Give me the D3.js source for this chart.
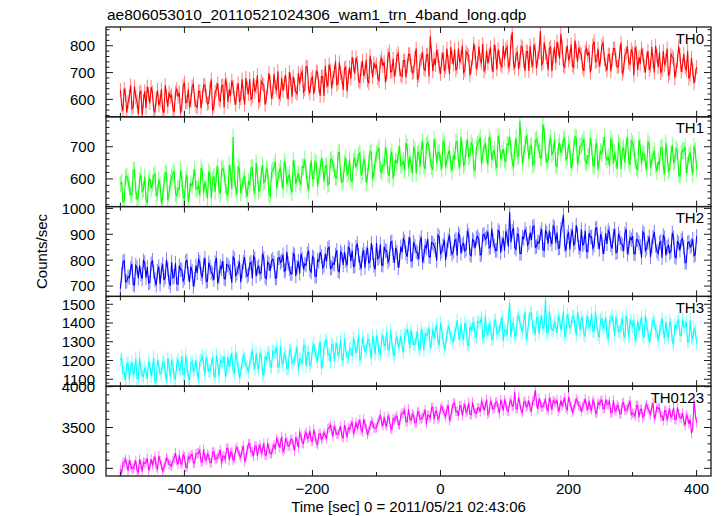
<!DOCTYPE html>
<html><head><meta charset="utf-8">
<script src="https://cdn.jsdelivr.net/npm/d3@7"></script>
<style>
body{margin:0;background:#fff}
svg{display:block}
text{font-family:"Liberation Sans",Arial,Helvetica,sans-serif;fill:#000}
</style>
</head><body>
<svg id="c" width="723" height="516"></svg>
<script>
const title = "ae806053010_20110521024306_wam1_trn_4band_long.qdp";
const xLabel = "Time [sec] 0 = 2011/05/21 02:43:06";
const yLabel = "Counts/sec";
// readings every 2 s: "A" arrays start at -500 s, "B" arrays start at -498 s (4 s step each)
const timeStartA = -500, timeStartB = -498, timeStep = 4;
const bandNames = ["TH0", "TH1", "TH2", "TH3", "TH0123"];
const bandColors = ["#ff0000", "#00ff00", "#0000ff", "#00ffff", "#ff00ff"];
const bandErrors = [26, 26, 28, 36, 60];
const yDomains = [[535, 870], [514, 793], [660, 1007], [1063, 1542], [2906, 4006]];
const yMajorStep = [100, 100, 100, 100, 500];
const yMinorStep = [20, 20, 20, 20, 100];
const xDomain = [-522.5, 422.5];
const xMajorTicks = [-400, -200, 0, 200, 400];
const xMinorTicks = [-500, -300, -100, 100, 300];

const th0A = [
635,558,618,590,652,572,608,545,630,595,
568,620,646,560,603,578,638,550,613,626,
615,553,638,625,580,663,590,570,647,597,
570,630,610,653,583,640,557,627,660,593,
653,675,590,613,647,580,660,605,623,680,
620,598,680,646,588,668,653,610,698,603,
695,635,602,680,662,628,702,610,655,620,
657,703,637,720,623,683,653,700,613,685,
725,648,708,680,742,662,698,635,720,685,
678,730,756,670,713,688,748,660,723,736,
730,668,753,740,695,778,705,685,762,712,
685,745,725,768,698,755,672,742,775,708,
768,835,705,728,762,695,775,720,738,795,
730,708,790,756,698,778,763,720,808,713,
797,737,704,782,764,730,804,712,757,722,
750,796,730,850,716,776,746,793,706,778,
800,723,783,755,855,737,773,710,795,760,
735,787,845,727,770,745,805,717,780,793,
768,706,791,778,733,816,743,723,800,750,
707,767,747,790,720,777,694,764,797,730,
773,795,710,733,767,700,780,725,743,800,
720,698,780,746,688,768,753,710,798,703,
770,710,677,755,660,720];
const th0B = [
578,640,550,612,565,648,592,625,540,630,
648,586,626,553,634,593,560,653,573,608,
565,625,610,547,649,587,637,595,657,575,
630,567,653,613,587,675,573,637,600,650,
570,655,637,670,605,633,590,675,580,643,
676,610,628,690,598,658,580,644,666,626,
645,705,618,632,692,600,675,685,628,698,
693,627,723,640,675,620,705,650,685,613,
668,730,640,702,655,738,682,715,630,720,
758,696,736,663,744,703,670,763,683,718,
680,740,725,662,764,702,752,710,772,690,
745,682,768,728,702,790,688,752,715,765,
685,770,752,785,720,748,705,790,695,758,
786,720,738,800,708,768,690,754,776,736,
747,807,720,734,794,702,777,787,730,800,
786,720,816,733,768,713,798,743,778,706,
743,805,715,777,730,813,757,790,705,795,
815,753,793,720,801,760,727,820,740,775,
718,778,763,700,802,740,790,748,810,728,
767,704,790,750,724,812,710,774,737,787,
690,775,757,790,725,753,710,795,700,763,
776,710,728,790,698,758,680,744,766,726,
720,780,693,707,690];

const th1A = [
584,528,605,593,552,627,561,543,613,568,
534,589,570,609,546,598,523,586,616,555,
605,625,548,569,600,539,612,562,578,630,
569,549,623,592,540,612,599,560,639,553,
633,578,549,619,730,572,639,556,597,565,
593,634,575,650,562,616,589,632,553,618,
640,570,624,599,655,583,615,558,635,603,
591,638,661,584,623,600,654,575,632,643,
637,581,658,646,605,680,614,596,666,621,
599,654,635,674,611,663,588,651,681,620,
677,697,620,641,672,611,684,634,650,702,
646,626,700,669,617,689,676,637,716,630,
713,658,629,699,683,652,719,636,677,645,
673,714,655,730,642,696,669,712,633,698,
716,646,700,675,731,659,691,634,711,679,
661,708,731,654,693,670,780,645,702,713,
699,643,720,708,667,770,676,658,728,683,
645,700,681,720,657,709,634,697,727,666,
705,725,648,669,700,639,712,662,678,730,
659,639,713,682,630,702,689,650,729,643,
711,656,627,697,681,650,717,634,675,643,
655,696,637,712,624,678,651,694,615,680,
687,617,671,646,702,630];
const th1B = [
589,532,609,573,550,629,537,595,561,607,
525,602,586,616,557,582,543,620,534,591,
614,555,571,627,544,598,528,585,605,569,
580,635,556,569,623,540,608,617,565,628,
617,558,644,569,601,551,628,578,610,545,
580,636,555,611,568,643,593,623,546,627,
653,597,633,567,640,603,574,658,585,617,
582,636,623,566,658,602,647,609,665,591,
642,585,662,626,603,682,590,648,614,660,
590,667,651,681,622,647,608,685,599,656,
686,627,643,699,616,670,600,657,677,641,
657,712,633,646,700,617,685,694,642,705,
697,638,724,649,681,631,708,658,690,625,
660,716,635,691,648,723,673,703,626,707,
729,673,709,643,716,679,650,734,661,693,
652,706,693,636,728,672,717,679,735,661,
704,647,724,688,665,744,652,710,676,722,
636,713,697,727,668,693,654,731,645,702,
714,655,671,727,644,698,628,685,705,669,
670,725,646,659,713,630,698,707,655,718,
695,636,722,647,679,629,706,656,688,623,
642,698,617,673,630,705,655,685,608,689,
700,644,680,614,687];

const th2A = [
690,793,716,737,768,707,780,730,746,798,
732,712,786,755,703,775,762,723,802,716,
793,738,709,779,763,732,799,716,757,725,
751,792,733,808,720,774,747,790,711,776,
797,727,781,756,812,740,772,715,792,760,
745,792,815,738,777,754,808,729,786,797,
789,733,810,798,757,832,766,748,818,773,
749,804,785,824,761,813,738,801,831,770,
825,845,768,789,820,759,832,782,798,850,
796,776,850,819,767,839,826,787,866,780,
866,811,782,852,836,805,872,789,830,798,
831,872,813,888,800,854,827,870,791,856,
882,812,866,841,897,825,857,800,877,845,
833,880,903,826,865,842,896,817,874,885,
879,823,900,888,847,922,856,838,908,863,
837,892,985,912,849,901,826,889,919,858,
907,927,850,871,902,841,914,864,880,932,
866,846,920,975,837,909,896,857,936,850,
919,864,835,905,889,858,925,842,883,851,
863,904,845,920,832,886,859,902,823,888,
894,824,878,853,909,837,869,812,889,857,
825,872,895,818,857,834,888,809,866,877,
849,793,870,858,817,892];
const th2B = [
743,798,719,732,786,703,771,780,728,791,
773,714,800,725,757,707,784,734,766,701,
732,788,707,763,720,795,745,775,698,779,
803,747,783,717,790,753,724,808,735,767,
729,783,770,713,805,749,794,756,812,738,
786,729,806,770,747,826,734,792,758,804,
730,807,791,821,762,787,748,825,739,796,
824,765,781,837,754,808,738,795,815,779,
795,850,771,784,838,755,823,832,780,843,
837,778,864,789,821,771,848,798,830,765,
805,861,780,836,793,868,818,848,771,852,
883,827,863,797,870,833,804,888,815,847,
814,868,855,798,890,834,879,841,897,823,
874,817,894,858,835,914,822,880,846,892,
820,897,881,911,852,877,838,915,829,886,
912,853,869,925,842,896,826,883,903,867,
877,932,853,866,920,837,905,914,862,925,
907,848,934,859,891,841,918,868,900,835,
858,914,833,889,846,921,871,901,824,905,
915,859,895,829,902,865,836,920,847,879,
826,880,867,810,902,846,891,853,909,835,
866,809,886,850,827,906,814,872,838,884,
790,867,851,881,822];

const th3A = [
1204,1132,1092,1186,1164,1124,1212,1102,1156,1114,
1140,1196,1116,1216,1100,1172,1136,1192,1088,1174,
1202,1110,1182,1148,1222,1126,1170,1094,1196,1154,
1132,1194,1226,1122,1174,1144,1216,1110,1186,1202,
1190,1116,1218,1202,1148,1248,1160,1136,1228,1168,
1138,1210,1186,1238,1154,1222,1122,1206,1246,1166,
1244,1270,1168,1196,1236,1156,1252,1186,1208,1276,
1208,1182,1280,1240,1170,1266,1248,1196,1302,1188,
1304,1232,1192,1286,1264,1224,1312,1202,1256,1214,
1260,1316,1236,1336,1220,1292,1256,1312,1208,1294,
1332,1240,1312,1278,1352,1256,1300,1224,1326,1284,
1274,1336,1368,1264,1316,1286,1358,1252,1328,1344,
1342,1268,1370,1354,1300,1400,1312,1288,1380,1320,
1296,1368,1344,1396,1312,1380,1280,1364,1404,1324,
1402,1428,1326,1354,1394,1314,1410,1344,1366,1434,
1363,1337,1510,1395,1325,1421,1403,1351,1457,1343,
1449,1377,1337,1431,1409,1369,1530,1347,1401,1359,
1385,1441,1361,1461,1345,1417,1381,1437,1333,1419,
1432,1340,1412,1378,1452,1356,1400,1324,1426,1384,
1344,1406,1438,1334,1386,1356,1428,1322,1398,1414,
1382,1308,1410,1394,1340,1440,1352,1328,1420,1360,
1306,1378,1354,1406,1322,1390,1290,1374,1414,1334,
1379,1405,1303,1331,1371,1291];
const th3B = [
1210,1136,1184,1096,1193,1144,1104,1216,1120,1162,
1102,1174,1156,1080,1203,1128,1188,1138,1212,1114,
1178,1102,1206,1158,1126,1232,1110,1186,1142,1202,
1102,1204,1182,1222,1144,1178,1126,1228,1114,1190,
1224,1144,1166,1240,1130,1202,1108,1185,1212,1164,
1186,1258,1154,1170,1242,1132,1222,1234,1166,1250,
1244,1164,1280,1180,1222,1156,1258,1192,1234,1148,
1204,1278,1170,1244,1188,1288,1220,1260,1158,1266,
1310,1236,1284,1196,1293,1244,1204,1316,1220,1262,
1222,1294,1276,1200,1323,1248,1308,1258,1332,1234,
1308,1232,1336,1288,1256,1362,1240,1316,1272,1332,
1244,1346,1324,1364,1286,1320,1268,1370,1256,1332,
1376,1296,1318,1392,1282,1354,1260,1337,1364,1316,
1344,1416,1312,1328,1400,1290,1380,1392,1324,1408,
1402,1322,1438,1338,1380,1314,1416,1350,1392,1306,
1359,1433,1325,1399,1343,1443,1375,1415,1313,1421,
1455,1381,1429,1341,1438,1389,1349,1461,1365,1407,
1347,1419,1401,1325,1448,1373,1433,1383,1457,1359,
1408,1332,1436,1388,1356,1462,1340,1416,1372,1432,
1314,1416,1394,1434,1356,1390,1338,1440,1326,1402,
1416,1336,1358,1432,1322,1394,1300,1377,1404,1356,
1354,1426,1322,1338,1410,1300,1390,1402,1334,1418,
1379,1299,1415,1315,1357];

const th0123A = [
2982,3065,3107,2969,3038,2998,3094,2953,3054,3075,
3076,2977,3113,3092,3020,3153,3036,3004,3127,3047,
3028,3124,3092,3161,3049,3140,3007,3119,3172,3065,
3185,3220,3084,3121,3175,3068,3196,3108,3137,3228,
3151,3116,3247,3193,3100,3228,3204,3135,3276,3124,
3297,3201,3148,3273,3244,3190,3308,3161,3233,3177,
3287,3361,3255,3388,3233,3329,3281,3356,3217,3332,
3436,3313,3409,3364,3463,3335,3393,3292,3428,3372,
3402,3485,3527,3389,3458,3418,3514,3373,3474,3495,
3526,3427,3563,3542,3470,3603,3486,3454,3577,3497,
3498,3594,3562,3631,3519,3610,3477,3589,3642,3535,
3675,3710,3574,3611,3665,3558,3686,3598,3627,3718,
3651,3616,3747,3693,3600,3728,3704,3635,3776,3624,
3792,3696,3643,3768,3739,3685,3803,3656,3728,3672,
3742,3816,3710,3843,3688,3784,3736,3811,3672,3787,
3831,3708,3804,3759,3930,3730,3788,3687,3823,3767,
3737,3820,3960,3724,3793,3753,3849,3708,3809,3830,
3796,3697,3833,3812,3740,3873,3756,3724,3847,3767,
3693,3789,3757,3826,3714,3805,3672,3784,3837,3730,
3785,3820,3684,3721,3775,3668,3796,3708,3737,3828,
3676,3641,3772,3718,3625,3753,3729,3660,3801,3649,
3732,3636,3583,3708,3679,3625,3743,3596,3668,3612,
3577,3651,3545,3430,3830,3560];
const th0123B = [
2942,3078,3049,3102,2998,3043,2974,3110,2958,3059,
3121,3015,3044,3143,2996,3092,2967,3070,3105,3041,
3092,3188,3049,3071,3167,3020,3140,3156,3065,3177,
3185,3079,3233,3100,3156,3068,3204,3116,3172,3057,
3145,3244,3100,3199,3124,3257,3167,3220,3084,3228,
3305,3206,3270,3153,3283,3217,3164,3313,3185,3241,
3236,3332,3308,3207,3370,3271,3351,3284,3383,3252,
3404,3303,3441,3377,3335,3476,3313,3415,3356,3436,
3362,3498,3469,3522,3418,3463,3394,3530,3378,3479,
3571,3465,3494,3593,3446,3542,3417,3520,3555,3491,
3562,3658,3519,3541,3637,3490,3610,3626,3535,3647,
3675,3569,3723,3590,3646,3558,3694,3606,3662,3547,
3645,3744,3600,3699,3624,3757,3667,3720,3584,3728,
3800,3701,3765,3648,3778,3712,3659,3808,3680,3736,
3691,3787,3763,3662,3825,3726,3806,3739,3838,3707,
3799,3698,3836,3772,3730,3871,3708,3810,3751,3831,
3697,3833,3804,3857,3753,3798,3729,3865,3713,3814,
3841,3735,3764,3863,3716,3812,3687,3790,3825,3761,
3757,3853,3714,3736,3832,3685,3805,3821,3730,3842,
3785,3679,3833,3700,3756,3668,3804,3716,3772,3657,
3670,3769,3625,3724,3649,3782,3692,3745,3609,3753,
3740,3641,3705,3588,3718,3652,3599,3748,3620,3676,
3526,3622,3598,3497,3660];

const bandA = [th0A, th1A, th2A, th3A, th0123A];
const bandB = [th0B, th1B, th2B, th3B, th0123B];

const plotL = 106, plotR = 711, plotT = 27, plotB = 476;
const nP = bandNames.length;
const ph = (plotB - plotT) / nP;
const svg = d3.select("#c");
const x = d3.scaleLinear().domain(xDomain).range([plotL, plotR]);
const ink = "#1a1a1a";

svg.append("text").attr("x", 107).attr("y", 20).attr("font-size", 15.5).text(title);

bandNames.forEach((name, i) => {
  const y0 = plotT + i * ph, y1 = y0 + ph;
  const y = d3.scaleLinear().domain(yDomains[i]).range([y1, y0]);
  const g = svg.append("g");
  const cid = "clip" + i;
  svg.append("clipPath").attr("id", cid).append("rect")
    .attr("x", plotL).attr("y", y0).attr("width", plotR - plotL).attr("height", ph);
  const pts = bandA[i].map((v, k) => ({t: timeStartA + k * timeStep, v}))
    .concat(bandB[i].map((v, k) => ({t: timeStartB + k * timeStep, v})))
    .sort((a, b) => a.t - b.t);
  const err = bandErrors[i];
  const dg = g.append("g").attr("clip-path", `url(#${cid})`);
  dg.selectAll("line.err").data(pts).join("line")
    .attr("x1", d => x(d.t)).attr("x2", d => x(d.t))
    .attr("y1", d => y(d.v - err)).attr("y2", d => y(d.v + err))
    .attr("stroke", bandColors[i]).attr("stroke-opacity", 0.5).attr("stroke-width", 1);
  dg.append("path").datum(pts)
    .attr("d", d3.line().x(d => x(d.t)).y(d => y(d.v)))
    .attr("fill", "none").attr("stroke", bandColors[i]).attr("stroke-width", 1.1);

  g.append("rect").attr("x", plotL).attr("y", y0).attr("width", plotR - plotL).attr("height", ph)
    .attr("fill", "none").attr("stroke", ink).attr("stroke-width", 1.3);

  const xt = xMajorTicks.map(t => ({t, L: 6})).concat(xMinorTicks.map(t => ({t, L: 4})));
  xt.forEach(d => {
    g.append("line").attr("x1", x(d.t)).attr("x2", x(d.t)).attr("y1", y1).attr("y2", y1 - d.L).attr("stroke", ink);
    g.append("line").attr("x1", x(d.t)).attr("x2", x(d.t)).attr("y1", y0).attr("y2", y0 + d.L).attr("stroke", ink);
  });

  const [lo, hi] = yDomains[i];
  const mn = yMinorStep[i], mj = yMajorStep[i];
  const yt = d3.range(Math.ceil(lo / mn) * mn, hi + 0.001, mn);
  yt.forEach(v => {
    const isMaj = Math.abs(v % mj) < 1e-6;
    const L = isMaj ? 7 : 3.5;
    g.append("line").attr("x1", plotL).attr("x2", plotL + L).attr("y1", y(v)).attr("y2", y(v)).attr("stroke", ink);
    g.append("line").attr("x1", plotR).attr("x2", plotR - L).attr("y1", y(v)).attr("y2", y(v)).attr("stroke", ink);
    if (isMaj) {
      g.append("text").attr("x", plotL - 11).attr("y", y(v)).attr("dy", "0.36em")
        .attr("text-anchor", "end").attr("font-size", 15).text(v);
    }
  });

  g.append("text").attr("x", 704).attr("y", y0 + 16.5).attr("text-anchor", "end")
    .attr("font-size", 15).text(name);
});

const fmt = d3.format("");
xMajorTicks.forEach(t => {
  svg.append("text").attr("x", x(t)).attr("y", 494).attr("text-anchor", "middle")
    .attr("font-size", 15).text(fmt(t));
});

svg.append("text").attr("x", (plotL + plotR) / 2).attr("y", 512).attr("text-anchor", "middle")
  .attr("font-size", 15).text(xLabel);

svg.append("text").attr("transform", `translate(47,${(plotT + plotB) / 2}) rotate(-90)`)
  .attr("text-anchor", "middle").attr("font-size", 15).text(yLabel);
</script>
</body></html>
